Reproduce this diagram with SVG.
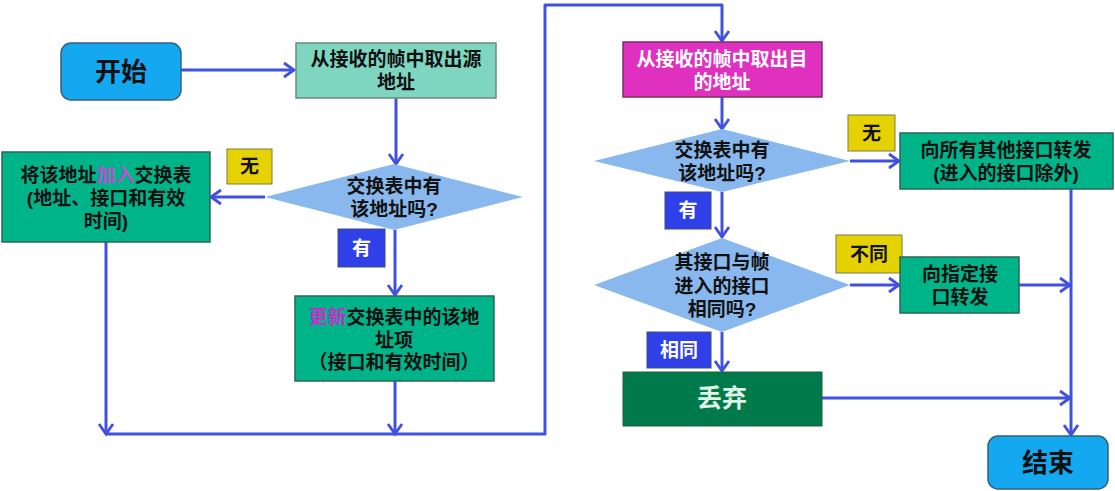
<svg xmlns="http://www.w3.org/2000/svg" width="1115" height="491" viewBox="0 0 1115 491">
<defs>
<style>
text{font-family:'Liberation Sans','Noto Sans CJK SC',sans-serif;font-weight:bold;text-anchor:middle;}
.t{font-size:19px;fill:#111;}
.w{font-size:19px;fill:#fff;}
.big{font-size:26px;fill:#111;}
.term{fill:#14a8f0;stroke:#35607e;stroke-width:1.5;}
.box{fill:#00b48a;stroke:#2c6656;stroke-width:1.5;}
.dia{fill:#88b8ee;}
.yl{fill:#e6d200;stroke:#7a7a50;stroke-width:1;}
.bl{fill:#3040e8;stroke:#404a80;stroke-width:1;}
.ln{fill:none;stroke:#4050e0;stroke-width:3;stroke-linejoin:round;}
</style>
<marker id="a" markerUnits="userSpaceOnUse" markerWidth="18" markerHeight="18" refX="13" refY="9" orient="auto" viewBox="0 0 18 18">
<path d="M3,2 L13,9 L3,16" fill="none" stroke="#4050e0" stroke-width="2.8"/>
</marker>
</defs>

<g id="connectors" class="ln">
<path d="M181,70 L294,70" marker-end="url(#a)"/>
<path d="M396,98 L396,164" marker-end="url(#a)"/>
<path d="M265,197 L211,197" marker-end="url(#a)"/>
<path d="M395,230 L395,295" marker-end="url(#a)"/>
<path d="M106,242 L106,434" marker-end="url(#a)"/>
<path d="M395,381 L395,434" marker-end="url(#a)"/>
<path d="M106,434 L545,434 L545,5 L722,5 L722,41" marker-end="url(#a)"/>
<path d="M722,97 L722,129" marker-end="url(#a)"/>
<path d="M850,161 L899,161" marker-end="url(#a)"/>
<path d="M722,192 L722,237" marker-end="url(#a)"/>
<path d="M850,285 L899,285" marker-end="url(#a)"/>
<path d="M722,332 L722,371" marker-end="url(#a)"/>
<path d="M1071,189 L1071,435" marker-end="url(#a)"/>
<path d="M1019,285 L1070,285" marker-end="url(#a)"/>
<path d="M822,398 L1070,398" marker-end="url(#a)"/>
</g>

<g id="start">
<rect class="term" x="61" y="43" width="120" height="57" rx="10"/>
<text class="big" x="121" y="81">开始</text>
</g>

<g id="getSrc">
<rect x="296" y="43" width="200" height="55" fill="#7fd6c0" stroke="#6a8a80" stroke-width="1.5"/>
<text class="t" x="396" y="65.5">从接收的帧中取出源</text>
<text class="t" x="396" y="88.5">地址</text>
</g>

<g id="srcCheck">
<polygon class="dia" points="394,164 523,197 394,230 265,197"/>
<text class="t" x="394" y="192.5">交换表中有</text>
<text class="t" x="394" y="215.5">该地址吗?</text>
</g>

<g id="addEntry">
<rect class="box" x="2" y="152" width="208" height="90"/>
<text class="t" x="106" y="181.5">将该地址<tspan fill="#b850d0">加入</tspan>交换表</text>
<text class="t" x="106" y="204.5">(地址、接口和有效</text>
<text class="t" x="106" y="227.5">时间)</text>
</g>

<g id="labelNo1">
<rect class="yl" x="227" y="149" width="45" height="35"/>
<text class="t" x="249.5" y="173">无</text>
</g>

<g id="labelYes1">
<rect class="bl" x="338" y="229" width="47" height="38"/>
<text class="w" x="361.5" y="254.5">有</text>
</g>

<g id="updateEntry">
<rect class="box" x="295" y="296" width="199" height="85"/>
<text class="t" x="394" y="323.5"><tspan fill="#c030c8">更新</tspan>交换表中的该地</text>
<text class="t" x="394" y="346.5">址项</text>
<text class="t" x="394" y="368.5">（接口和有效时间）</text>
</g>

<g id="getDst">
<rect x="623" y="42" width="199" height="55" fill="#e030c0" stroke="#7a3070" stroke-width="1.5"/>
<text class="w" x="722" y="65.5">从接收的帧中取出目</text>
<text class="w" x="722" y="88.5">的地址</text>
</g>

<g id="dstCheck">
<polygon class="dia" points="722,129 850,161 722,192 594,161"/>
<text class="t" x="722" y="156.5">交换表中有</text>
<text class="t" x="722" y="179.5">该地址吗?</text>
</g>

<g id="labelNo2">
<rect class="yl" x="848" y="115" width="47" height="36"/>
<text class="t" x="871.5" y="139.5">无</text>
</g>

<g id="flood">
<rect class="box" x="900" y="133" width="213" height="56"/>
<text class="t" x="1006" y="156.5">向所有其他接口转发</text>
<text class="t" x="1006" y="179.5">(进入的接口除外)</text>
</g>

<g id="labelYes2">
<rect class="bl" x="665" y="192" width="46" height="37"/>
<text class="w" x="688" y="216.5">有</text>
</g>

<g id="portCheck">
<polygon class="dia" points="722,238 850,285 722,332 594,285"/>
<text class="t" x="722" y="268.5">其接口与帧</text>
<text class="t" x="722" y="292.5">进入的接口</text>
<text class="t" x="722" y="315.5">相同吗?</text>
</g>

<g id="labelDiff">
<rect class="yl" x="836" y="235" width="66" height="38"/>
<text class="t" x="869" y="260.5">不同</text>
</g>

<g id="forward">
<rect class="box" x="900" y="257" width="119" height="56"/>
<text class="t" x="960" y="280.5">向指定接</text>
<text class="t" x="960" y="303.5">口转发</text>
</g>

<g id="labelSame">
<rect class="bl" x="647" y="332" width="64" height="36"/>
<text class="w" x="679" y="356.5">相同</text>
</g>

<g id="discard">
<rect x="623" y="372" width="199" height="54" fill="#007a4a" stroke="#2a5a40" stroke-width="1"/>
<text x="722" y="407" style="font-size:25px;fill:#dff3e6">丢弃</text>
</g>

<g id="end">
<rect class="term" x="988" y="436" width="120" height="53" rx="10"/>
<text class="big" x="1048" y="472">结束</text>
</g>
</svg>
